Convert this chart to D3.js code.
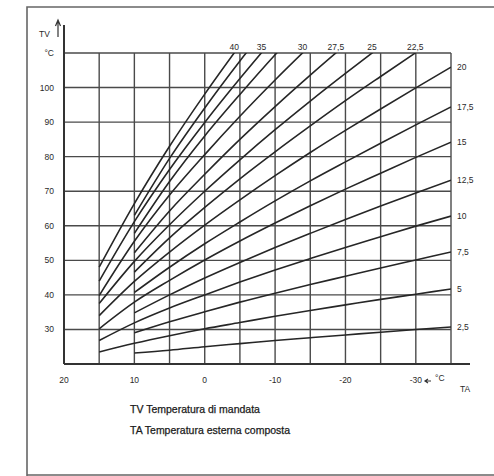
<!DOCTYPE html>
<html>
<head>
<meta charset="utf-8">
<script src="https://cdn.jsdelivr.net/npm/d3@7"></script>
<style>
  body { margin: 0; background: #fff; }
  svg { display: block; font-family: "Liberation Sans", Arial, sans-serif; }
  .grid line { stroke: #4a4a4a; stroke-width: 1.4; }
  .curve { fill: none; stroke: #262626; stroke-width: 1.6; }
  .lbl { fill: #2a2a2a; font-size: 8.5px; }
</style>
</head>
<body>
<svg id="chart"></svg>
<script>
// outside temperature TA (x) where each curve is read
const taValues = [15, 10, 5, 0, -5, -10, -15, -20, -25, -30, -35];

// curve names (Italian decimal comma)
const curveNames = ['2,5', '5', '7,5', '10', '12,5', '15', '17,5', '20',
   '22,5', '25', '27,5', '30', '32,5', '35', '37,5', '40'];

// flow temperature TV at taValues (null = no curve there)
const tv2_5 = [null, 23.2, 24.0, 25.0, 25.9, 26.8, 27.6, 28.4, 29.2, 30.0, 30.7];
const tv5 = [23.5, 26.0, 28.2, 30.2, 32.0, 33.8, 35.5, 37.1, 38.7, 40.2, 41.7];
const tv7_5 = [null, 29.0, 32.2, 35.1, 37.9, 40.5, 43.0, 45.4, 47.8, 50.1, 52.4];
const tv10 = [26.8, 31.9, 36.2, 40.0, 43.7, 47.2, 50.5, 53.7, 56.8, 59.9, 62.8];
const tv12_5 = [null, 34.8, 40.0, 44.9, 49.4, 53.7, 57.8, 61.8, 65.7, 69.5, 73.2];
const tv15 = [30.2, 37.9, 44.2, 50.1, 55.6, 60.8, 65.8, 70.6, 75.2, 79.8, 84.2];
const tv17_5 = [null, 40.7, 48.0, 54.8, 61.1, 67.2, 73.0, 78.5, 83.9, 89.2, 94.4];
const tv20 = [34.0, 43.9, 52.4, 60.2, 67.5, 74.5, 81.2, 87.6, 93.8, 99.9, 105.9];
const tv22_5 = [null, 46.6, 56.5, 65.3, 73.6, 81.4, 88.9, 96.2, 103.2, 110.1, null];
const tv25 = [37.5, 49.7, 60.3, 70.0, 79.1, 87.8, 96.1, 104.1, 111.9, null, null];
const tv27_5 = [null, 52.2, 64.3, 74.9, 85.0, 94.5, 103.6, 112.4, null, null, null];
const tv30 = [39.8, 55.5, 68.9, 80.6, 91.7, 102.2, 112.2, null, null, null, null];
const tv32_5 = [null, 57.8, 72.8, 86.0, 98.0, 109.5, 120.4, null, null, null, null];
const tv35 = [44.0, 61.2, 76.3, 89.9, 102.6, 114.7, null, null, null, null, null];
const tv37_5 = [null, 63.0, 79.5, 94.1, 107.7, 120.5, null, null, null, null, null];
const tv40 = [48.0, 66.4, 83.0, 98.1, 112.3, null, null, null, null, null, null];

const curveValues = [tv2_5, tv5, tv7_5, tv10, tv12_5, tv15, tv17_5, tv20,
   tv22_5, tv25, tv27_5, tv30, tv32_5, tv35, tv37_5, tv40];

// which curves get a label at the top, which on the right
const topLabelled = ['40', '35', '30', '27,5', '25', '22,5'];
const rightLabelled = ['20', '17,5', '15', '12,5', '10', '7,5', '5', '2,5'];

const xTicks = [20, 10, 0, -10, -20, -30];
const yTicks = [30, 40, 50, 60, 70, 80, 90, 100];

const legendLines = ['TV Temperatura di mandata', 'TA Temperatura esterna composta'];

const width = 494, height = 476;
const svg = d3.select('#chart').attr('width', width).attr('height', height);

const x = d3.scaleLinear().domain([20, -35]).range([64, 451]);
const y = d3.scaleLinear().domain([20, 110]).range([364, 53]);

// outer frame of the scanned page
svg.append('path')
   .attr('d', `M${width},7 H27 V${height} M27,475 H${width}`)
   .attr('fill', 'none')
   .attr('stroke', '#666')
   .attr('stroke-width', 1.6);

// grid
const grid = svg.append('g').attr('class', 'grid');
grid.selectAll('.v')
   .data(d3.range(20, -36, -5))
   .join('line')
   .attr('x1', d => x(d)).attr('x2', d => x(d))
   .attr('y1', y(20)).attr('y2', y(110));
grid.selectAll('.h')
   .data(d3.range(30, 111, 10))
   .join('line')
   .attr('x1', x(20)).attr('x2', x(-35))
   .attr('y1', d => y(d)).attr('y2', d => y(d));

// axes lines (heavier, extended)
svg.append('line')
   .attr('x1', x(20)).attr('x2', 470)
   .attr('y1', y(20)).attr('y2', y(20))
   .attr('stroke', '#333').attr('stroke-width', 2);
svg.append('line')
   .attr('x1', x(20)).attr('x2', x(20))
   .attr('y1', y(20)).attr('y2', 25)
   .attr('stroke', '#333').attr('stroke-width', 2);

// curves, clipped to the plot box
svg.append('clipPath').attr('id', 'plot')
   .append('rect')
   .attr('x', x(20)).attr('y', y(110))
   .attr('width', x(-35) - x(20)).attr('height', y(20) - y(110));

const line = d3.line()
   .defined(d => d[1] !== null)
   .x(d => x(d[0]))
   .y(d => y(d[1]))
   .curve(d3.curveMonotoneX);

svg.append('g').attr('clip-path', 'url(#plot)')
   .selectAll('path')
   .data(curveValues)
   .join('path')
   .attr('class', 'curve')
   .attr('d', vals => line(taValues.map((ta, i) => [ta, vals[i]])));

// curve labels at the top edge: placed where each curve reaches 110
const topLabels = topLabelled.map(name => {
   const vals = curveValues[curveNames.indexOf(name)];
   let ta = taValues[0];
   for (let i = 1; i < vals.length; i++) {
      if (vals[i] !== null && vals[i] >= 110 && vals[i - 1] !== null) {
         ta = taValues[i - 1] + (taValues[i] - taValues[i - 1]) * (110 - vals[i - 1]) / (vals[i] - vals[i - 1]);
         break;
      }
   }
   return { name, ta };
});
svg.selectAll('.top-lbl')
   .data(topLabels)
   .join('text')
   .attr('class', 'lbl')
   .attr('x', d => x(d.ta))
   .attr('y', y(110) - 3)
   .attr('text-anchor', 'middle')
   .text(d => d.name);

// curve labels on the right edge
svg.selectAll('.right-lbl')
   .data(rightLabelled)
   .join('text')
   .attr('class', 'lbl')
   .attr('x', x(-35) + 6)
   .attr('y', d => y(curveValues[curveNames.indexOf(d)][taValues.length - 1]) + 3)
   .text(d => d);

// y tick labels
svg.selectAll('.ytick')
   .data(yTicks)
   .join('text')
   .attr('class', 'lbl')
   .attr('x', 54)
   .attr('y', d => y(d) + 3)
   .attr('text-anchor', 'end')
   .text(d => d);
svg.append('text').attr('class', 'lbl')
   .attr('x', 54).attr('y', y(110) + 3)
   .attr('text-anchor', 'end').text('°C');

// TV axis title with arrow
svg.append('text').attr('class', 'lbl')
   .attr('x', 39).attr('y', 37).text('TV');
svg.append('path')
   .attr('d', 'M58,37 V22 M55.5,26 L58,20 L60.5,26')
   .attr('fill', 'none').attr('stroke', '#333').attr('stroke-width', 1.2);

// x tick labels
svg.selectAll('.xtick')
   .data(xTicks)
   .join('text')
   .attr('class', 'lbl')
   .attr('x', d => x(d))
   .attr('y', 383)
   .attr('text-anchor', 'middle')
   .text(d => d === 0 ? '0' : d > 0 ? d : '-' + Math.abs(d));

// TA axis title with arrow
svg.append('path')
   .attr('d', 'M431,381 H426 M428,379 L425,381 L428,383')
   .attr('fill', 'none').attr('stroke', '#333').attr('stroke-width', 1.2);
svg.append('text').attr('class', 'lbl')
   .attr('x', 435).attr('y', 381).text('°C');
svg.append('text').attr('class', 'lbl')
   .attr('x', 460).attr('y', 392).text('TA');

// legend
svg.selectAll('.legend')
   .data(legendLines)
   .join('text')
   .attr('x', 130)
   .attr('y', (d, i) => 413 + i * 21)
   .attr('font-size', 10.5)
   .attr('fill', '#1a1a1a')
   .attr('stroke', '#1a1a1a')
   .attr('stroke-width', 0.25)
   .text(d => d);
</script>
</body>
</html>
